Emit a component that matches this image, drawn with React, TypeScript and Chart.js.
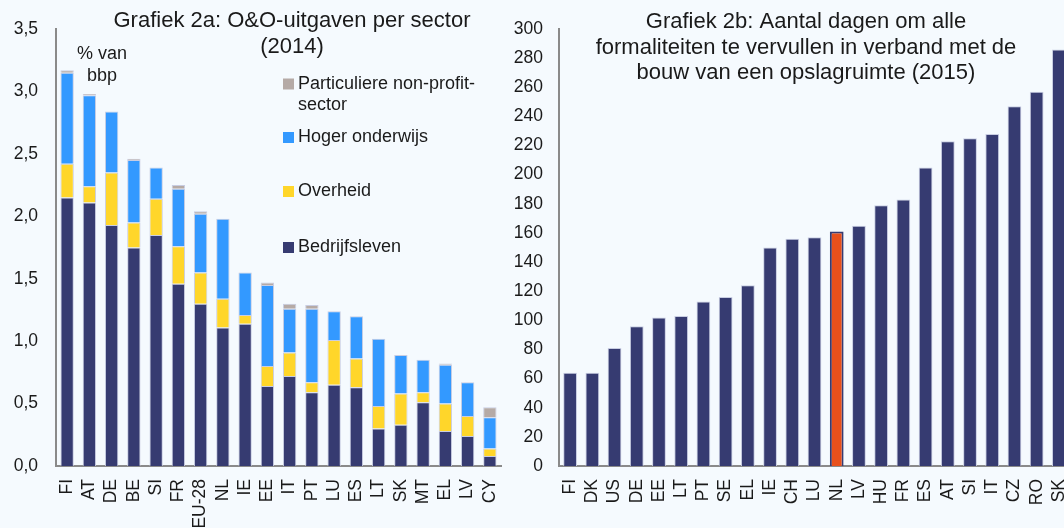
import React, { useEffect, useRef } from "react";
import { Chart, registerables } from "chart.js";

Chart.register(...registerables);

// ---------- Data ----------
const SECTOR_COUNTRIES = ["FI", "AT", "DE", "BE", "SI", "FR", "EU-28", "NL", "IE", "EE", "IT", "PT", "LU", "ES", "LT", "SK", "MT", "EL", "LV", "CY"];
const BEDRIJFSLEVEN = [2.15, 2.11, 1.93, 1.75, 1.85, 1.46, 1.3, 1.11, 1.14, 0.64, 0.72, 0.59, 0.65, 0.63, 0.3, 0.33, 0.51, 0.28, 0.24, 0.08];
const OVERHEID = [0.27, 0.13, 0.42, 0.2, 0.29, 0.3, 0.25, 0.23, 0.07, 0.16, 0.19, 0.08, 0.36, 0.23, 0.18, 0.25, 0.08, 0.22, 0.16, 0.06];
const HOGER_ONDERWIJS = [0.73, 0.73, 0.49, 0.5, 0.25, 0.46, 0.47, 0.64, 0.34, 0.65, 0.35, 0.59, 0.23, 0.34, 0.54, 0.31, 0.26, 0.31, 0.27, 0.25];
const NON_PROFIT = [0.02, 0.01, 0, 0.01, 0, 0.03, 0.02, 0, 0, 0.02, 0.04, 0.03, 0, 0, 0, 0, 0, 0.01, 0, 0.08];
const SECTOR_LABELS = ["Bedrijfsleven", "Overheid", "Hoger onderwijs", "Particuliere non-profit-sector"];
const LEFT_MAX = 3.5;
const LEFT_STEP = 0.5;

const DAYS_COUNTRIES = ["FI", "DK", "US", "DE", "EE", "LT", "PT", "SE", "EL", "IE", "CH", "LU", "NL", "LV", "HU", "FR", "ES", "AT", "SI", "IT", "CZ", "RO", "SK"];
const DAYS = [64, 64, 81, 96, 102, 103, 113, 116, 124, 150, 156, 157, 161, 165, 179, 183, 205, 223, 225, 228, 247, 257, 286];
const HIGHLIGHT = "NL";
const RIGHT_MAX = 300;
const RIGHT_STEP = 20;

const TITLE_A = ["Grafiek 2a: O&O-uitgaven per sector", "(2014)"];
const TITLE_B = ["Grafiek 2b: Aantal dagen om alle", "formaliteiten te vervullen in verband met de", "bouw van een opslagruimte (2015)"];
const UNIT_A = ["% van", "bbp"];
const LEGEND_LINES = [["Particuliere non-profit-", "sector"], ["Hoger onderwijs"], ["Overheid"], ["Bedrijfsleven"]];

// ---------- Styles ----------
const FONT = "'Liberation Sans', Arial, Helvetica, sans-serif";
const BG = "#F5FAFE";
const NAVY = "#363B71";
const YELLOW = "#FFD62A";
const BLUE = "#3399FF";
const GREY = "#B5AAA6";
const ORANGE = "#E8501C";
const AXIS = "#8A8A8A";
const TEXT = "#1A1A1A";
const EDGE = "#C8CDE2";

const overlayPlugin = {
  id: "overlay",
  afterDraw(chart: any, _args: any, opts: any) {
    const ctx = chart.ctx;
    ctx.save();
    for (const b of opts.boxes || []) {
      ctx.fillStyle = b.color;
      ctx.fillRect(b.x, b.y, b.w, b.h);
    }
    for (const t of opts.texts || []) {
      ctx.font = `${t.size}px ${FONT}`;
      ctx.fillStyle = TEXT;
      ctx.textAlign = t.align || "center";
      ctx.textBaseline = "middle";
      ctx.fillText(t.text, t.x, t.y);
    }
    ctx.restore();
  },
};

function fmtComma(v: number) {
  return Number(v).toFixed(1).replace(".", ",");
}

export default function App() {
  const leftRef = useRef<HTMLCanvasElement | null>(null);
  const rightRef = useRef<HTMLCanvasElement | null>(null);

  useEffect(() => {
    document.body.style.margin = "0";
    document.body.style.background = BG;

    // ----- left chart -----
    const titleAY = [21, 47];
    const leftTexts: any[] = TITLE_A.map((t, i) => ({ text: t, x: 292, y: titleAY[i], size: 22 }));
    const unitY = [54, 76];
    UNIT_A.forEach((t, i) => leftTexts.push({ text: t, x: 102, y: unitY[i], size: 18 }));
    const legendColors = [GREY, BLUE, YELLOW, NAVY];
    const legendY = [84, 137.5, 191.5, 247.5];
    const boxes: any[] = [];
    LEGEND_LINES.forEach((lines, i) => {
      boxes.push({ color: legendColors[i], x: 283, y: legendY[i] - 5.5, w: 11, h: 11 });
      lines.forEach((l, j) => leftTexts.push({ text: l, x: 298, y: legendY[i] + j * 21.5, size: 18, align: "left" }));
    });

    const sectorSeries = [BEDRIJFSLEVEN, OVERHEID, HOGER_ONDERWIJS, NON_PROFIT];
    const sectorColors = [NAVY, YELLOW, BLUE, GREY];

    const xFit = (h: number) => (s: any) => {
      s.height = h;
      s.paddingLeft = 0;
      s.paddingRight = 0;
    };

    const left = new Chart(leftRef.current as HTMLCanvasElement, {
      type: "bar",
      data: {
        labels: SECTOR_COUNTRIES,
        datasets: sectorSeries.map((d, i) => ({
          label: SECTOR_LABELS[i],
          data: d,
          backgroundColor: sectorColors[i],
          borderColor: EDGE,
          borderWidth: 1,
          categoryPercentage: 1,
          barPercentage: 0.6,
        })),
      },
      options: {
        animation: false,
        responsive: false,
        layout: { padding: { top: 29, right: 9, left: 0, bottom: 0 } },
        plugins: {
          legend: { display: false },
          tooltip: { enabled: false },
          overlay: { texts: leftTexts, boxes },
        } as any,
        scales: {
          x: {
            stacked: true,
            grid: { display: false, drawTicks: false },
            border: { display: true, color: AXIS, width: 2 },
            ticks: {
              autoSkip: false,
              minRotation: 90,
              maxRotation: 90,
              padding: 13,
              color: TEXT,
              font: { family: FONT, size: 17.5 },
            },
            afterFit: xFit(62),
          },
          y: {
            stacked: true,
            min: 0,
            max: LEFT_MAX,
            grid: { display: false, drawTicks: false },
            border: { display: true, color: AXIS, width: 2 },
            ticks: {
              stepSize: LEFT_STEP,
              padding: 18,
              color: TEXT,
              font: { family: FONT, size: 17.5 },
              callback: (v: any) => fmtComma(v),
            },
            afterFit: (s: any) => {
              s.width = 56;
            },
          },
        },
      },
      plugins: [overlayPlugin],
    });

    // ----- right chart -----
    const offX = 505;
    const titleBY = [22, 48, 73];
    const rightTexts = TITLE_B.map((t, i) => ({ text: t, x: 806 - offX, y: titleBY[i], size: 22 }));

    const right = new Chart(rightRef.current as HTMLCanvasElement, {
      type: "bar",
      data: {
        labels: DAYS_COUNTRIES,
        datasets: [
          {
            label: "Dagen",
            data: DAYS,
            backgroundColor: DAYS_COUNTRIES.map((c) => (c === HIGHLIGHT ? ORANGE : NAVY)),
            borderColor: DAYS_COUNTRIES.map((c) => (c === HIGHLIGHT ? NAVY : EDGE)),
            borderWidth: DAYS_COUNTRIES.map((c) => (c === HIGHLIGHT ? 2 : 1)),
            categoryPercentage: 1,
            barPercentage: 0.62,
          },
        ],
      },
      options: {
        animation: false,
        responsive: false,
        layout: { padding: { top: 29, right: 0, left: 0, bottom: 0 } },
        plugins: {
          legend: { display: false },
          tooltip: { enabled: false },
          overlay: { texts: rightTexts, boxes: [] },
        } as any,
        scales: {
          x: {
            grid: { display: false, drawTicks: false },
            border: { display: true, color: AXIS, width: 2 },
            ticks: {
              autoSkip: false,
              minRotation: 90,
              maxRotation: 90,
              padding: 13,
              color: TEXT,
              font: { family: FONT, size: 17.5 },
            },
            afterFit: xFit(62),
          },
          y: {
            min: 0,
            max: RIGHT_MAX,
            grid: { display: false, drawTicks: false },
            border: { display: true, color: AXIS, width: 2 },
            ticks: {
              stepSize: RIGHT_STEP,
              padding: 16,
              color: TEXT,
              font: { family: FONT, size: 17.5 },
            },
            afterFit: (s: any) => {
              s.width = 54;
            },
          },
        },
      },
      plugins: [overlayPlugin],
    });

    return () => {
      left.destroy();
      right.destroy();
    };
  }, []);

  return (
    <div
      style={{
        position: "fixed",
        left: 0,
        top: 0,
        width: 1064,
        height: 528,
        overflow: "hidden",
        background: BG,
      }}
    >
      <canvas ref={leftRef} width={510} height={528} style={{ position: "absolute", left: 0, top: 0 }} />
      <canvas ref={rightRef} width={565} height={528} style={{ position: "absolute", left: 505, top: 0 }} />
    </div>
  );
}
